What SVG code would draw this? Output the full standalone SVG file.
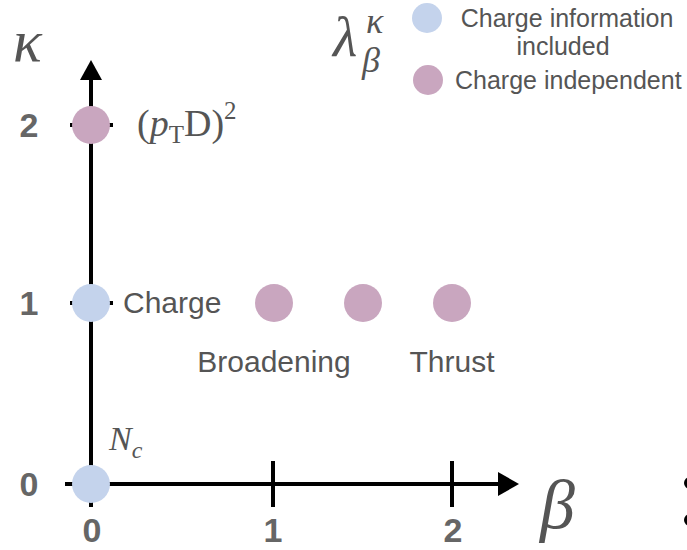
<svg xmlns="http://www.w3.org/2000/svg" width="687" height="550" viewBox="0 0 687 550">
<defs>
<style>
.ax{stroke:#000;stroke-width:4;fill:none}
.blue{fill:#C4D3EC}
.pink{fill:#C9A6BF}
.lab{font-family:"Liberation Sans",Arial,sans-serif;font-size:30px;fill:#555}
.leg{font-family:"Liberation Sans",Arial,sans-serif;font-size:25px;fill:#555}
.num{font-family:"Liberation Sans",Arial,sans-serif;font-size:34px;font-weight:bold;fill:#666}
.math{font-family:"Liberation Serif","Times New Roman",serif;fill:#555}
</style>
</defs>
<rect width="687" height="550" fill="#fff"/>
<g id="connectors">
<line class="ax" x1="91" y1="507" x2="91" y2="76"/>
<polygon points="91,60 80,80 102,80" fill="#000"/>
<line class="ax" x1="65" y1="484" x2="500" y2="484"/>
<polygon points="519,484 498,472 498,496" fill="#000"/>
<line class="ax" x1="70" y1="125" x2="113" y2="125"/>
<line class="ax" x1="70" y1="303" x2="113" y2="303"/>
<line class="ax" x1="273" y1="461" x2="273" y2="507"/>
<line class="ax" x1="452" y1="461" x2="452" y2="507"/>
</g>
<g id="axis-labels">
<text class="math" x="13" y="61" font-size="60" font-style="italic">κ</text>
<text class="math" x="540" y="528" font-size="70" font-style="italic">β</text>
<text class="num" x="29" y="137" text-anchor="middle">2</text>
<text class="num" x="29" y="315" text-anchor="middle">1</text>
<text class="num" x="29" y="496" text-anchor="middle">0</text>
<text class="num" x="92" y="542" text-anchor="middle">0</text>
<text class="num" x="273" y="542" text-anchor="middle">1</text>
<text class="num" x="453" y="542" text-anchor="middle">2</text>
</g>
<g id="node-ptD">
<circle class="pink" cx="91" cy="125" r="19"/>
<text class="math" x="137" y="136" font-size="38">(<tspan font-style="italic">p</tspan><tspan font-size="25" dy="7">T</tspan><tspan dy="-7">D)</tspan><tspan font-size="25" dy="-17">2</tspan></text>
</g>
<g id="node-charge">
<circle class="blue" cx="91" cy="303" r="19"/>
<text class="lab" x="123" y="313">Charge</text>
</g>
<g id="node-broadening">
<circle class="pink" cx="274" cy="303" r="19"/>
<text class="lab" x="274" y="372" text-anchor="middle">Broadening</text>
</g>
<g id="node-mid">
<circle class="pink" cx="363" cy="303" r="19"/>
</g>
<g id="node-thrust">
<circle class="pink" cx="452" cy="303" r="19"/>
<text class="lab" x="452" y="372" text-anchor="middle">Thrust</text>
</g>
<g id="node-nc">
<circle class="blue" cx="91" cy="484" r="19"/>
<text class="math" x="109" y="450" font-size="34" font-style="italic">N<tspan font-size="24" dy="8">c</tspan></text>
</g>
<g id="legend">
<text class="math" x="333" y="56" font-size="56" font-style="italic">λ</text>
<text class="math" x="366" y="33" font-size="36" font-style="italic">κ</text>
<text class="math" x="362" y="72" font-size="36" font-style="italic">β</text>
<circle class="blue" cx="427" cy="18" r="15"/>
<text class="leg" x="567" y="27" text-anchor="middle">Charge information</text>
<text class="leg" x="563" y="55" text-anchor="middle">included</text>
<circle class="pink" cx="428" cy="80" r="15"/>
<text class="leg" x="455" y="89">Charge independent</text>
</g>
<g id="edge-dots">
<circle cx="690" cy="483" r="6" fill="#000"/>
<circle cx="690" cy="520" r="6" fill="#000"/>
</g>
</svg>
